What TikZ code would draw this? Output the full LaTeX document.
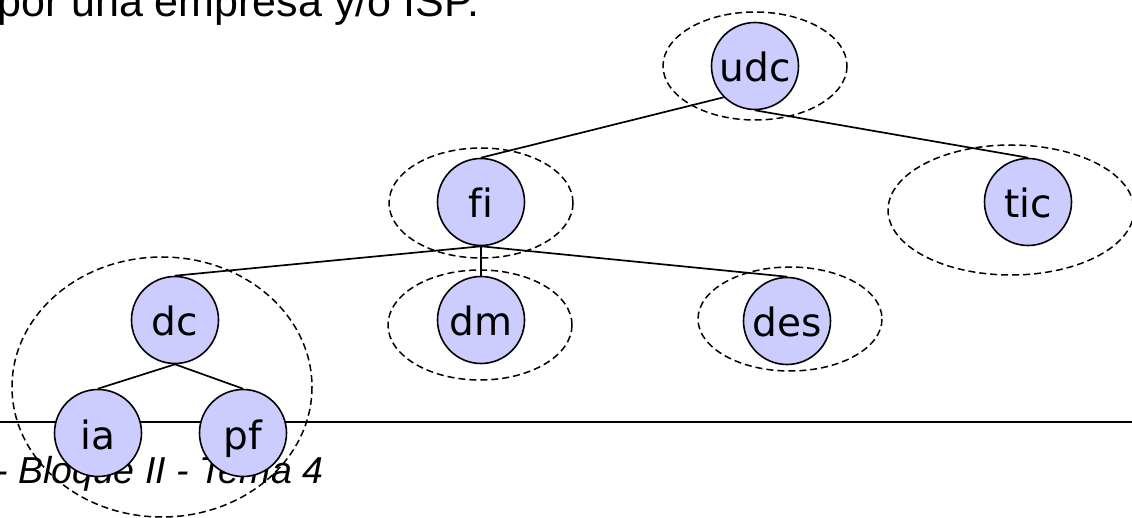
\documentclass[tikz,border=0pt]{standalone}
\usepackage{fontspec}
\setmainfont{Liberation Sans}
\newfontfamily\labelfont[Ligatures=NoCommon]{DejaVu Sans}
\definecolor{nodefill}{RGB}{204,204,255}
\begin{document}
\begin{tikzpicture}[x=1pt,y=-1pt,
  treenode/.style={circle,draw=black,line width=1.6pt,fill=nodefill,
    minimum size=87pt,inner sep=0pt,text height=32pt,text depth=0pt,
    font=\labelfont\fontsize{39}{39}\selectfont},
  group/.style={draw=black,line width=1.5pt,dash pattern=on 7pt off 4pt},
  edge/.style={draw=black,line width=1.7pt}]
\useasboundingbox (0,0) rectangle (1132,518);
\clip (0,0) rectangle (1132,518);

% slide text and rule
\node[anchor=base west,inner sep=0pt,font=\fontsize{43}{43}\selectfont] (title) at (-3,17) {por una empresa y/o ISP.};
\node[anchor=base west,inner sep=0pt,font=\itshape\fontsize{37.5}{37.5}\selectfont] (footer) at (-5,483) {- Bloque II - Tema 4};
\coordinate (ruleL) at (0,422);
\coordinate (ruleR) at (1132,422);
\draw[line width=1.7pt] (ruleL) -- (ruleR);

% grouping ellipses
\draw[group] (755,66) ellipse [x radius=92, y radius=54];
\draw[group] (481,203) ellipse [x radius=92, y radius=55];
\draw[group] (1011,210) ellipse [x radius=123, y radius=65];
\draw[group] (480,325) ellipse [x radius=92, y radius=55];
\draw[group] (790,319) ellipse [x radius=92, y radius=52];
\draw[group] (162,387) ellipse [x radius=150, y radius=130];

% tree nodes
\node[treenode] (udc) at (755,66) {udc};
\node[treenode] (fi) at (481,202) {fi};
\node[treenode] (tic) at (1028,202) {tic};
\node[treenode] (dc) at (175,320) {dc};
\node[treenode] (dm) at (481,320) {dm};
\node[treenode] (des) at (787,321) {des};
\node[treenode] (ia) at (98,433) {ia};
\node[treenode] (pf) at (243,433) {pf};

% connectors
\draw[edge] (udc.south west) -- (fi.north);
\draw[edge] (udc.south) -- (tic.north);
\draw[edge] (fi.south) -- (dc.north);
\draw[edge] (fi.south) -- (dm.north);
\draw[edge] (fi.south) -- (des.north);
\draw[edge] (dc.south) -- (ia.north);
\draw[edge] (dc.south) -- (pf.north);
\end{tikzpicture}
\end{document}
